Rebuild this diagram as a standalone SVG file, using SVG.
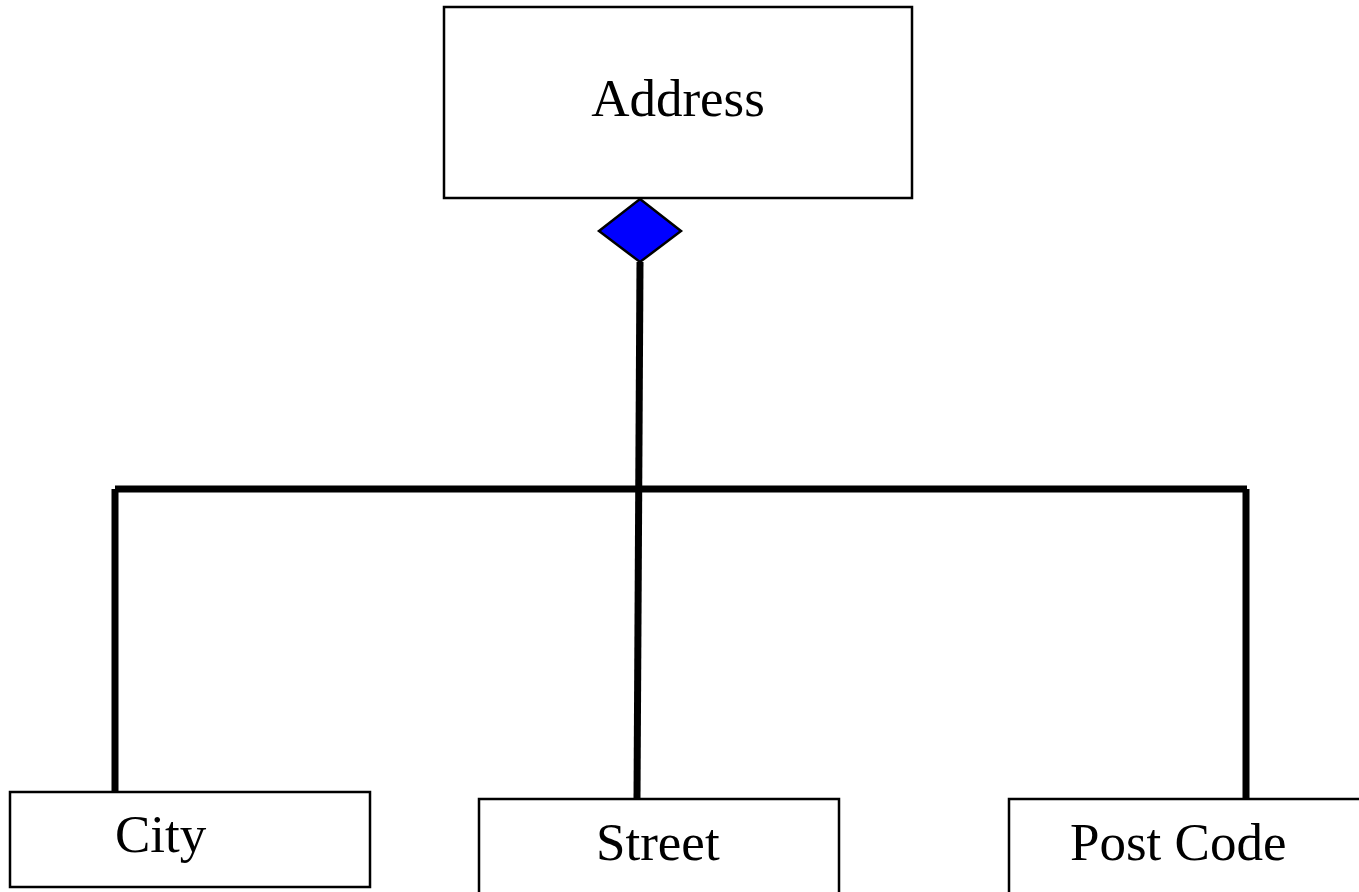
<svg xmlns="http://www.w3.org/2000/svg" width="1359" height="892" viewBox="0 0 1359 892">
<style>
.box{fill:#fff;stroke:#000;stroke-width:2.5}
.lbl{font-family:"Liberation Serif","Times New Roman",serif;font-size:53px;fill:#000}
.conn{stroke:#000;stroke-width:7;fill:none;stroke-linecap:butt}
.dia{fill:#0000ff;stroke:#000;stroke-width:2.5;stroke-linejoin:miter}
</style>
<rect width="1359" height="892" fill="#fff"/>
<g id="connectors">
<line class="conn" x1="640" y1="262" x2="637" y2="799"/>
<line class="conn" x1="115" y1="489" x2="1247" y2="489"/>
<line class="conn" x1="115" y1="489" x2="115" y2="792"/>
<line class="conn" x1="1246" y1="489" x2="1246" y2="799"/>
<polygon class="dia" points="640,199 681,231 640,262 599,231"/>
</g>
<g id="address">
<rect class="box" x="444" y="7" width="468" height="191"/>
<text class="lbl" x="678" y="116" text-anchor="middle">Address</text>
</g>
<g id="city">
<rect class="box" x="10" y="792" width="360" height="95"/>
<text class="lbl" x="115" y="852">City</text>
</g>
<g id="street">
<rect class="box" x="479" y="799" width="360" height="110"/>
<text class="lbl" x="596" y="860">Street</text>
</g>
<g id="postcode">
<rect class="box" x="1009" y="799" width="370" height="110"/>
<text class="lbl" x="1070" y="860">Post Code</text>
</g>
</svg>
